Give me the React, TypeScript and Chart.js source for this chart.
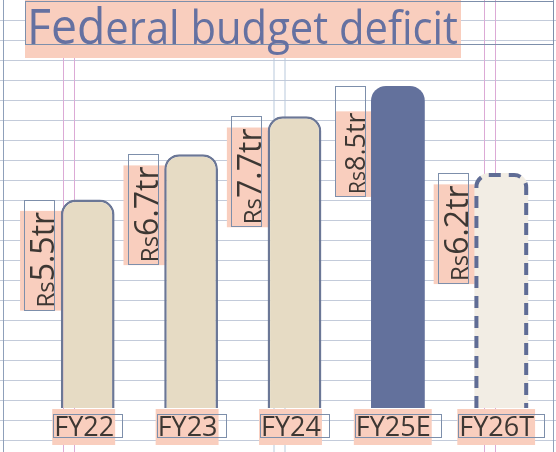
import { useEffect, useRef } from 'react';
import { Chart, type Plugin } from 'chart.js/auto';

// data
const CATEGORIES = ['FY22', 'FY23', 'FY24', 'FY25E', 'FY26T'];
const DEFICIT_TR = [5.5, 6.7, 7.7, 8.5, 6.2];
const CURRENCY = 'Rs';
const UNIT = 'tr';
const TITLE_LEAD = 'Fed';
const TITLE_REST = 'eral budget deficit';

// styles
const FONT = '"Open Sans", "DejaVu Sans", sans-serif';
const WEIGHT = 500;
const BEIGE = '#e6dbc4';
const SLATE = '#63719c';
const TARGET_FILL = '#f2ede4';
const EDGE = '#6b7796';
const SALMON = '#f9cebe';
const INK = '#3d3733';
const TITLE_INK = '#6571a1';
const BOX = '#7d8fab';
const RULE = '#c3cbda';
const SIDE_RULE = '#8fa0ba';
const PINK = '#dcaad6';
const PALE_BLUE = '#b9c9dc';

const ESTIMATE_IDX = 3;
const TARGET_IDX = 4;

const fillFor = (i: number) => (i === ESTIMATE_IDX ? SLATE : i === TARGET_IDX ? TARGET_FILL : BEIGE);
const font = (px: number) => `${WEIGHT} ${px}px ${FONT}`;

// notebook-paper background: ruled lines and column guides
const paperPlugin: Plugin = {
  id: 'paper',
  beforeDraw(chart) {
    const { ctx, width, height } = chart;
    ctx.save();
    ctx.fillStyle = '#ffffff';
    ctx.fillRect(0, 0, width, height);
    ctx.lineWidth = 1;
    ctx.strokeStyle = RULE;
    for (let y = 20; y < height; y += 20) {
      ctx.beginPath();
      ctx.moveTo(0, y + 0.5);
      ctx.lineTo(width, y + 0.5);
      ctx.stroke();
    }
    const vline = (x: number, color: string) => {
      ctx.strokeStyle = color;
      ctx.beginPath();
      ctx.moveTo(x + 0.5, 0);
      ctx.lineTo(x + 0.5, height);
      ctx.stroke();
    };
    vline(3, SIDE_RULE);
    vline(width - 3, SIDE_RULE);
    [63, 273.5, 484].forEach((x, k) => {
      const c = k === 1 ? PALE_BLUE : PINK;
      vline(x, c);
      vline(x + 11, c);
    });
    ctx.restore();
  },
};

const labelPlugin: Plugin = {
  id: 'labels',
  beforeDatasetsDraw(chart) {
    const { ctx, chartArea } = chart;
    const meta = chart.getDatasetMeta(0);
    ctx.save();

    // title
    ctx.fillStyle = SALMON;
    ctx.fillRect(25, 0, 436, 58);
    ctx.strokeStyle = BOX;
    ctx.lineWidth = 1;
    ctx.strokeRect(25.5, 1.5, 528, 43);
    ctx.font = font(50);
    const leadW = ctx.measureText(TITLE_LEAD).width;
    ctx.font = font(45);
    const restW = ctx.measureText(TITLE_REST).width;
    const sx = 431 / (leadW + restW);
    ctx.save();
    ctx.translate(27, 44);
    ctx.scale(sx, 1);
    ctx.fillStyle = TITLE_INK;
    ctx.textBaseline = 'alphabetic';
    ctx.textAlign = 'left';
    ctx.font = font(50);
    ctx.fillText(TITLE_LEAD, 0, 0);
    ctx.font = font(45);
    ctx.fillText(TITLE_REST, leadW, 0);
    ctx.restore();

    meta.data.forEach((el: any, i: number) => {
      const { x, y, width } = el.getProps(['x', 'y', 'width'], true);
      const left = x - width / 2;

      // vertical value label
      const big = i === ESTIMATE_IDX ? 27 : 32;
      const small = i === ESTIMATE_IDX ? 21 : 24;
      const num = DEFICIT_TR[i].toFixed(1) + UNIT;
      const bx = left - 6.5;
      const startY = y + 108;
      ctx.font = font(small);
      const rsW = ctx.measureText(CURRENCY).width;
      ctx.font = font(big);
      const numW = ctx.measureText(num).width;
      const len = rsW + numW;
      ctx.fillStyle = SALMON;
      ctx.fillRect(bx - big * 1.07, startY - len - 1, big * 1.07 + big * 0.27, len + 4);
      ctx.strokeStyle = BOX;
      ctx.strokeRect(Math.round(bx - 30) + 0.5, Math.round(y) + 0.5, 30, 110);
      ctx.save();
      ctx.translate(bx, startY);
      ctx.rotate(-Math.PI / 2);
      ctx.fillStyle = INK;
      ctx.textAlign = 'left';
      ctx.textBaseline = 'alphabetic';
      ctx.font = font(small);
      ctx.fillText(CURRENCY, 0, 0);
      ctx.font = font(big);
      ctx.fillText(num, rsW, 0);
      ctx.restore();

      // category label
      const cat = CATEGORIES[i];
      ctx.font = font(27);
      const tw = ctx.measureText(cat).width;
      const boxW = tw * 1.15;
      const boxL = x - boxW / 2;
      const textL = boxL + 1;
      const b = chartArea.bottom;
      ctx.fillStyle = SALMON;
      ctx.fillRect(textL - 2, b + 1, tw + 3, 36);
      ctx.strokeStyle = BOX;
      ctx.strokeRect(Math.round(boxL) + 0.5, b + 6.5, Math.round(boxW), 23);
      ctx.fillStyle = INK;
      ctx.textAlign = 'left';
      ctx.textBaseline = 'alphabetic';
      ctx.fillText(cat, textL, b + 28);
    });
    ctx.restore();
  },
};

// dashed outline for the target bar
const dashedPlugin: Plugin = {
  id: 'dashedBar',
  afterDatasetsDraw(chart) {
    const { ctx } = chart;
    const el: any = chart.getDatasetMeta(0).data[TARGET_IDX];
    if (!el) return;
    const { x, y, base, width } = el.getProps(['x', 'y', 'base', 'width'], true);
    const lw = 4;
    const l = x - width / 2 + lw / 2;
    const r = x + width / 2 - lw / 2;
    const t = y + lw / 2;
    const rad = 12;
    ctx.save();
    ctx.strokeStyle = '#5f6c95';
    ctx.lineWidth = lw;
    ctx.setLineDash([12, 8]);
    ctx.beginPath();
    ctx.moveTo(l, base);
    ctx.lineTo(l, t + rad);
    ctx.arcTo(l, t, l + rad, t, rad);
    ctx.lineTo(r - rad, t);
    ctx.arcTo(r, t, r, t + rad, rad);
    ctx.lineTo(r, base);
    ctx.stroke();
    ctx.restore();
  },
};

export default function App() {
  const canvasRef = useRef<HTMLCanvasElement>(null);
  const chartRef = useRef<Chart | null>(null);

  useEffect(() => {
    if (!canvasRef.current) return;
    if (chartRef.current) chartRef.current.destroy();
    chartRef.current = new Chart(canvasRef.current, {
      type: 'bar',
      data: {
        labels: CATEGORIES,
        datasets: [
          {
            data: DEFICIT_TR,
            backgroundColor: DEFICIT_TR.map((_, i) => fillFor(i)),
            borderColor: EDGE,
            borderWidth: DEFICIT_TR.map((_, i) => (i >= ESTIMATE_IDX ? 0 : 2.5)),
            borderSkipped: 'bottom',
            borderRadius: { topLeft: 15, topRight: 15, bottomLeft: 0, bottomRight: 0 },
            barPercentage: 0.52,
            categoryPercentage: 1,
          },
        ],
      },
      options: {
        responsive: false,
        animation: false,
        layout: { padding: { left: 36, right: 3, top: 67, bottom: 44 } },
        plugins: {
          legend: { display: false },
          tooltip: { enabled: false },
          title: { display: false },
        },
        scales: {
          x: { display: false },
          y: { display: false, min: 0, max: 9 },
        },
      },
      plugins: [paperPlugin, labelPlugin, dashedPlugin],
    });
    return () => {
      chartRef.current?.destroy();
      chartRef.current = null;
    };
  }, []);

  return (
    <div style={{ position: 'fixed', left: 0, top: 0, width: 556, height: 452 }}>
      <canvas ref={canvasRef} width={556} height={452} style={{ width: 556, height: 452 }} />
    </div>
  );
}
